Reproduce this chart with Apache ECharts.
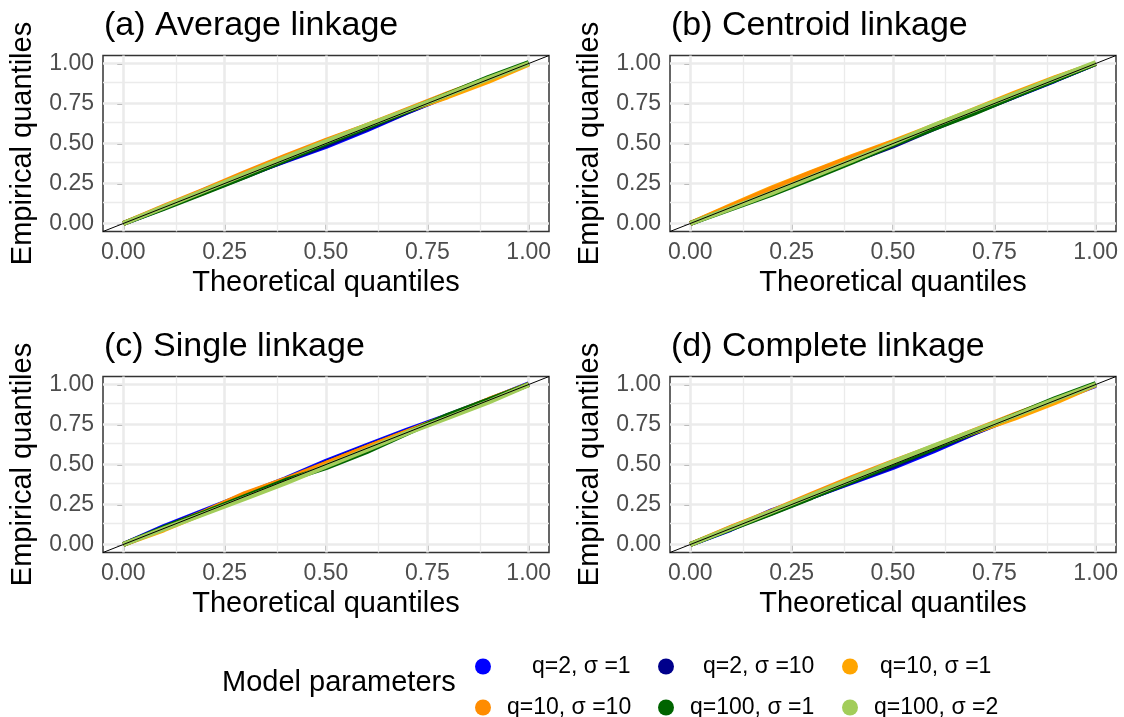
<!DOCTYPE html>
<html><head><meta charset="utf-8">
<script src="https://cdn.jsdelivr.net/npm/echarts@6/dist/echarts.min.js"></script>
<style>html,body{margin:0;padding:0;background:#fff}#c{width:1124px;height:717px}</style>
</head><body><div id="c"></div>
<script>
// ---------------- DATA ----------------
const theoreticalQ = [0, 0.1, 0.2, 0.3, 0.4, 0.5, 0.6, 0.7, 0.8, 0.9, 1.0];
const tickValues = [0, 0.25, 0.5, 0.75, 1];
const tickLabels = ['0.00', '0.25', '0.50', '0.75', '1.00'];
const minorValues = [0.125, 0.375, 0.625, 0.875];
const diagEnds = [-0.05, 1.05];
const panelTitles = ['(a) Average linkage', '(b) Centroid linkage', '(c) Single linkage', '(d) Complete linkage'];
const seriesNames = ['q=2, σ =1', 'q=2, σ =10', 'q=10, σ =1', 'q=10, σ =10', 'q=100, σ =1', 'q=100, σ =2'];

// (a) Average linkage
const a_q2s1    = [0, 0.098, 0.208, 0.300, 0.392, 0.482, 0.585, 0.695, 0.798, 0.900, 1.000];
const a_q2s10   = [0, 0.100, 0.198, 0.295, 0.395, 0.490, 0.592, 0.698, 0.800, 0.902, 1.000];
const a_q10s1   = [0, 0.103, 0.195, 0.305, 0.412, 0.515, 0.610, 0.705, 0.792, 0.888, 0.995];
const a_q10s10  = [0, 0.108, 0.210, 0.318, 0.422, 0.520, 0.612, 0.712, 0.812, 0.905, 1.000];
const a_q100s1  = [0, 0.095, 0.192, 0.292, 0.398, 0.500, 0.600, 0.702, 0.808, 0.912, 1.005];
const a_q100s2  = [0, 0.102, 0.205, 0.308, 0.410, 0.512, 0.612, 0.708, 0.805, 0.905, 1.000];
// (b) Centroid linkage
const b_q2s1    = [0, 0.100, 0.200, 0.298, 0.398, 0.495, 0.598, 0.698, 0.795, 0.895, 1.000];
const b_q2s10   = [0, 0.100, 0.198, 0.295, 0.390, 0.485, 0.592, 0.695, 0.795, 0.898, 1.000];
const b_q10s1   = [0, 0.112, 0.222, 0.322, 0.420, 0.512, 0.610, 0.712, 0.815, 0.912, 1.000];
const b_q10s10  = [0, 0.108, 0.215, 0.318, 0.415, 0.508, 0.605, 0.708, 0.810, 0.908, 1.000];
const b_q100s1  = [0, 0.092, 0.182, 0.282, 0.385, 0.492, 0.592, 0.690, 0.795, 0.898, 1.000];
const b_q100s2  = [0, 0.095, 0.190, 0.292, 0.395, 0.502, 0.612, 0.710, 0.808, 0.908, 1.005];
// (c) Single linkage
const c_q2s1    = [0, 0.112, 0.212, 0.312, 0.410, 0.520, 0.618, 0.715, 0.805, 0.902, 1.005];
const c_q2s10   = [0, 0.105, 0.205, 0.305, 0.405, 0.510, 0.610, 0.708, 0.802, 0.900, 1.000];
const c_q10s1   = [0, 0.092, 0.198, 0.305, 0.398, 0.505, 0.605, 0.702, 0.800, 0.902, 1.000];
const c_q10s10  = [0, 0.100, 0.205, 0.318, 0.408, 0.508, 0.608, 0.705, 0.802, 0.905, 1.000];
const c_q100s1  = [0, 0.105, 0.200, 0.300, 0.400, 0.480, 0.580, 0.695, 0.808, 0.902, 1.000];
const c_q100s2  = [0, 0.098, 0.192, 0.288, 0.385, 0.490, 0.592, 0.698, 0.792, 0.890, 0.998];
// (d) Complete linkage
const d_q2s1    = [0, 0.095, 0.210, 0.298, 0.390, 0.482, 0.585, 0.695, 0.798, 0.900, 0.995];
const d_q2s10   = [0, 0.100, 0.198, 0.298, 0.395, 0.490, 0.595, 0.698, 0.800, 0.902, 1.000];
const d_q10s1   = [0, 0.105, 0.198, 0.305, 0.410, 0.512, 0.608, 0.702, 0.790, 0.888, 0.998];
const d_q10s10  = [0, 0.108, 0.208, 0.315, 0.420, 0.518, 0.612, 0.712, 0.812, 0.905, 1.000];
const d_q100s1  = [0, 0.098, 0.195, 0.295, 0.398, 0.500, 0.600, 0.705, 0.808, 0.912, 1.005];
const d_q100s2  = [0, 0.102, 0.205, 0.308, 0.410, 0.515, 0.615, 0.710, 0.805, 0.905, 1.000];

const panelData = [
  [a_q2s1, a_q2s10, a_q10s1, a_q10s10, a_q100s1, a_q100s2],
  [b_q2s1, b_q2s10, b_q10s1, b_q10s10, b_q100s1, b_q100s2],
  [c_q2s1, c_q2s10, c_q10s1, c_q10s10, c_q100s1, c_q100s2],
  [d_q2s1, d_q2s10, d_q10s1, d_q10s10, d_q100s1, d_q100s2]
];

// ---------------- STYLE / LAYOUT ----------------
const palette = ['#0000FF', '#00008B', '#FFA500', '#FF8C00', '#006400', '#A2CD5A'];
const FONT = '"Liberation Sans", Arial, Helvetica, sans-serif';
const gridBoxes = [
  {left: 103, top: 55.5}, {left: 670, top: 55.5},
  {left: 103, top: 376.5}, {left: 670, top: 376.5}
];
const GW = 446, GH = 176;
const legendLayout = [
  {left: 475, top: 655, pad: 36}, {left: 658, top: 655, pad: 24}, {left: 842, top: 655, pad: 17},
  {left: 475, top: 696, pad: 11}, {left: 658, top: 696, pad: 11}, {left: 842, top: 696, pad: 11}
];

const fmt = v => { const i = tickValues.indexOf(v); return i >= 0 ? tickLabels[i] : v.toFixed(2); };

const grids = [], xAxes = [], yAxes = [], series = [], titles = [];
gridBoxes.forEach((g, p) => {
  grids.push({left: g.left, top: g.top, width: GW, height: GH, show: true,
    backgroundColor: '#fff', borderColor: '#333333', borderWidth: 1.5, containLabel: false});
  titles.push({text: panelTitles[p], left: g.left + 1, top: g.top - 46.5, padding: 0,
    textStyle: {fontSize: 34, fontWeight: 'normal', color: '#000', fontFamily: FONT}});
  const axisCommon = {
    gridIndex: p, type: 'value', min: diagEnds[0], max: diagEnds[1],
    axisLine: {show: false}, splitLine: {show: false},
    axisTick: {show: true, customValues: tickValues, length: 6, lineStyle: {color: '#333333', width: 2}},
    axisLabel: {customValues: tickValues, formatter: fmt, color: '#4D4D4D', fontSize: 23, fontFamily: FONT},
    nameLocation: 'middle',
    nameTextStyle: {fontSize: 29, color: '#000', fontFamily: FONT}
  };
  xAxes.push(Object.assign({}, axisCommon, {name: 'Theoretical quantiles', nameGap: 37,
    axisLabel: Object.assign({}, axisCommon.axisLabel, {margin: 10})}));
  yAxes.push(Object.assign({}, axisCommon, {name: 'Empirical quantiles', nameGap: 66,
    axisLabel: Object.assign({}, axisCommon.axisLabel, {margin: 9})}));

  // background grid lines (major & minor)
  const major = {color: '#EBEBEB', width: 2.6, type: 'solid'};
  const minor = {color: '#EBEBEB', width: 1.3, type: 'solid'};
  const ml = [];
  minorValues.forEach(v => { ml.push({xAxis: v, lineStyle: minor}); ml.push({yAxis: v, lineStyle: minor}); });
  tickValues.forEach(v => { ml.push({xAxis: v, lineStyle: major}); ml.push({yAxis: v, lineStyle: major}); });
  series.push({type: 'line', xAxisIndex: p, yAxisIndex: p, data: [], z: 1, silent: true,
    markLine: {silent: true, symbol: ['none', 'none'], label: {show: false}, z: 1, animation: false, data: ml}});

  panelData[p].forEach((arr, k) => {
    series.push({
      name: seriesNames[k], type: 'line', xAxisIndex: p, yAxisIndex: p,
      data: theoreticalQ.map((x, i) => [x, arr[i]]),
      showSymbol: false, symbol: 'circle', color: palette[k],
      lineStyle: {width: 5, color: palette[k]}, z: 2 + k * 0.01, animation: false, silent: true
    });
  });
  series.push({type: 'line', xAxisIndex: p, yAxisIndex: p, data: [[diagEnds[0], diagEnds[0]], [diagEnds[1], diagEnds[1]]],
    showSymbol: false, lineStyle: {color: '#000', width: 1}, z: 3, animation: false, silent: true});
});

titles.push({text: 'Model parameters', left: 222, top: 668.5, padding: 0,
  textStyle: {fontSize: 29, fontWeight: 'normal', color: '#000', fontFamily: FONT}});

const legends = legendLayout.map((L, k) => ({
  data: [seriesNames[k]], left: L.left, top: L.top, padding: 0, icon: 'circle',
  itemWidth: 16, itemHeight: 16, selectedMode: false,
  textStyle: {fontSize: 23, color: '#000', fontFamily: FONT, padding: [0, 0, 0, L.pad]}
}));

const chart = echarts.init(document.getElementById('c'), null, {renderer: 'canvas'});
chart.setOption({
  animation: false, backgroundColor: '#fff',
  title: titles, legend: legends, grid: grids, xAxis: xAxes, yAxis: yAxes, series: series
});
</script></body></html>
